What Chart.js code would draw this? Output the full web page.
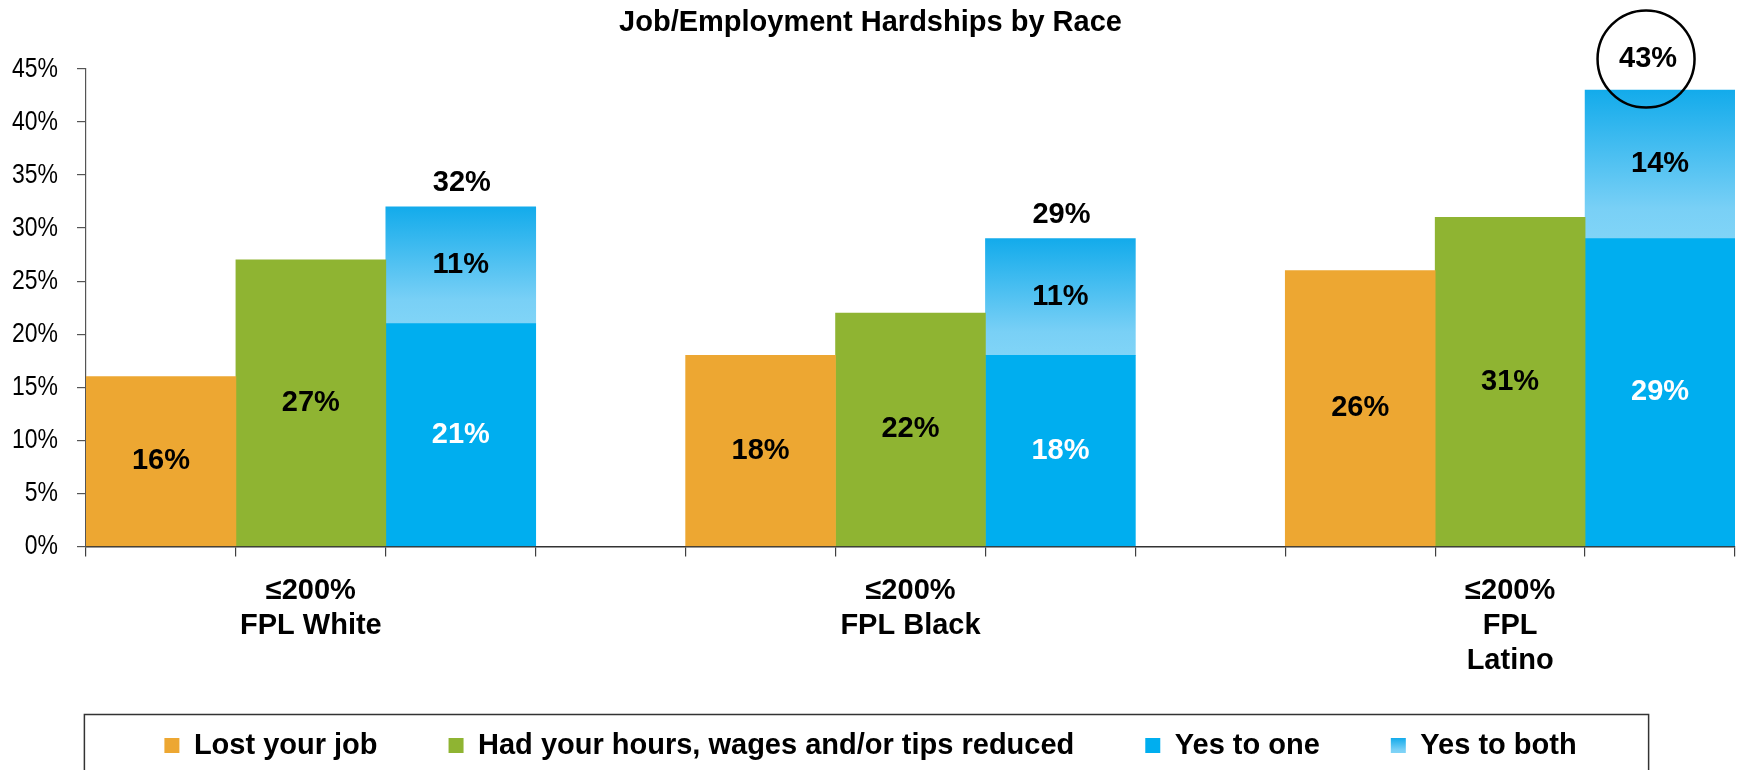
<!DOCTYPE html>
<html>
<head>
<meta charset="utf-8">
<title>Job/Employment Hardships by Race</title>
<script src="https://cdn.jsdelivr.net/npm/chart.js@4/dist/chart.umd.min.js"></script>
<style>
  html, body { margin: 0; padding: 0; background: #fff; }
  #wrap { width: 1741px; height: 770px; }
</style>
</head>
<body>
<div id="wrap"><canvas id="myChart" width="1741" height="770"></canvas></div>
<script>
// hardship shares (%) for people at or below 200% FPL, by race
const categories = [['≤200%', 'FPL White'], ['≤200%', 'FPL Black'], ['≤200%', 'FPL', 'Latino']];
const lostJob = [16, 18, 26];
const hoursCut = [27, 22, 31];
const yesOne = [21, 18, 29];
const yesBoth = [11, 11, 14];
const circled = [false, false, true];

const seriesNames = ['Lost your job', 'Had your hours, wages and/or tips reduced', 'Yes to one', 'Yes to both'];
const yMax = 45;
const yStep = 5;

const ORANGE = '#EDA732';
const GREEN = '#8FB432';
const BLUE = '#00AEEF';
const BOTH_TOP = '#13ABEB';
const BOTH_BOTTOM = '#80D4F7';

const BOLD = 'Liberation Sans, Arial, sans-serif';

// every group takes 3 slots plus one empty slot as a spacer
const SLOTS = 4;
const nSlots = categories.length * SLOTS - 1;
const slotLabels = [];
const lostData = [], hoursData = [], oneData = [], bothData = [];
for (let i = 0; i < nSlots; i++) {
  slotLabels.push('');
  lostData.push(null); hoursData.push(null); oneData.push(null); bothData.push(null);
}
categories.forEach((c, g) => {
  slotLabels[g * SLOTS + 1] = c;
  lostData[g * SLOTS] = lostJob[g];
  hoursData[g * SLOTS + 1] = hoursCut[g];
  oneData[g * SLOTS + 2] = yesOne[g];
  bothData[g * SLOTS + 2] = yesBoth[g];
});

const bothGradient = (chart, top, bottom) => {
  const grad = chart.ctx.createLinearGradient(0, top, 0, bottom);
  grad.addColorStop(0, BOTH_TOP);
  grad.addColorStop(0.8, '#79D0F6');
  grad.addColorStop(1, BOTH_BOTTOM);
  return grad;
};

const bothColor = (ctx) => {
  const chart = ctx.chart;
  if (ctx.type !== 'data' || !chart.chartArea || ctx.raw == null) return BOTH_BOTTOM;
  const g = Math.floor(ctx.dataIndex / SLOTS);
  const y = chart.scales.y;
  return bothGradient(chart, y.getPixelForValue(yesOne[g] + yesBoth[g]), y.getPixelForValue(yesOne[g]));
};

// values inside the bars, totals on top, circle round the highlighted total
const valueLabels = {
  id: 'valueLabels',
  afterDatasetsDraw(chart) {
    const ctx = chart.ctx;
    const textColors = ['#000', '#000', '#fff', '#000'];
    ctx.save();
    ctx.font = 'bold 29px ' + BOLD;
    ctx.textAlign = 'center';
    ctx.textBaseline = 'middle';
    chart.data.datasets.forEach((ds, d) => {
      chart.getDatasetMeta(d).data.forEach((bar, i) => {
        const v = ds.data[i];
        if (v == null) return;
        ctx.fillStyle = textColors[d];
        ctx.fillText(v + '%', bar.x, (bar.y + bar.base) / 2);
      });
    });
    const y = chart.scales.y;
    const x = chart.scales.x;
    categories.forEach((c, g) => {
      const total = yesOne[g] + yesBoth[g];
      const top = y.getPixelForValue(total);
      const cx = x.getPixelForValue(g * SLOTS + 2);
      ctx.fillStyle = '#000';
      if (circled[g]) {
        const lx = cx - 12, ly = top - 31;
        ctx.fillText(total + '%', lx, ly);
        ctx.beginPath();
        ctx.arc(lx - 2, ly, 48.5, 0, Math.PI * 2);
        ctx.lineWidth = 2.5;
        ctx.strokeStyle = '#000';
        ctx.stroke();
      } else {
        ctx.fillText(total + '%', cx + 1, top - 24);
      }
    });
    ctx.restore();
  }
};

// narrow y tick labels (Liberation Sans squeezed, like Arial Narrow)
const narrowTicks = {
  id: 'narrowTicks',
  afterDraw(chart) {
    const y = chart.scales.y;
    const ctx = chart.ctx;
    ctx.save();
    ctx.font = '28px ' + BOLD;
    ctx.fillStyle = '#000';
    ctx.textAlign = 'right';
    ctx.textBaseline = 'middle';
    y.ticks.forEach(t => {
      ctx.save();
      ctx.translate(y.right - 9 - 19, y.getPixelForValue(t.value));
      ctx.scale(0.82, 1);
      ctx.fillText(t.value + '%', 0, 0);
      ctx.restore();
    });
    ctx.restore();
  }
};

// framed legend, gradient swatch for "Yes to both"
const legendFrame = {
  id: 'legendFrame',
  afterLayout(chart) {
    // let the multi-line category labels run below the axis box
    chart.scales.x.bottom = chart.height;
  },
  afterDraw(chart) {
    const hb = chart.legend.legendHitBoxes;
    if (!hb || !hb.length) return;
    const ctx = chart.ctx;
    const last = hb[hb.length - 1];
    const mid = hb[0].top + hb[0].height / 2;
    ctx.save();
    ctx.strokeStyle = '#333';
    ctx.lineWidth = 1.5;
    ctx.strokeRect(hb[0].left - 80, mid - 31, last.left + last.width + 72 - (hb[0].left - 80), 100);
    const bw = 15, bh = 15;
    const sy = mid - bh / 2;
    ctx.fillStyle = '#fff';
    ctx.fillRect(last.left - 1, sy - 1, bw + 2, bh + 2);
    ctx.fillStyle = bothGradient(chart, sy, sy + bh);
    ctx.fillRect(last.left, sy, bw, bh);
    ctx.restore();
  }
};

new Chart(document.getElementById('myChart'), {
  type: 'bar',
  data: {
    labels: slotLabels,
    datasets: [
      { label: seriesNames[0], data: lostData, backgroundColor: ORANGE },
      { label: seriesNames[1], data: hoursData, backgroundColor: GREEN },
      { label: seriesNames[2], data: oneData, backgroundColor: BLUE },
      { label: seriesNames[3], data: bothData, backgroundColor: bothColor }
    ]
  },
  options: {
    responsive: false,
    animation: false,
    events: [],
    borderWidth: 0,
    barPercentage: 1,
    categoryPercentage: 1,
    layout: { padding: { left: 6, right: 6, top: 0, bottom: 0 } },
    scales: {
      x: {
        stacked: true,
        afterFit: (s) => { s.height = 113.5; },
        grid: { offset: true, drawOnChartArea: false, tickLength: 10, color: '#404040', lineWidth: 1.2 },
        border: { color: '#333', width: 1.5 },
        ticks: {
          autoSkip: false, maxRotation: 0, minRotation: 0, padding: 17, color: '#000',
          font: { family: BOLD, size: 29, weight: 'bold', lineHeight: 1.2 }
        }
      },
      y: {
        stacked: true,
        min: 0,
        max: yMax,
        afterFit: (s) => { s.width = 80; },
        grid: { drawOnChartArea: false, tickLength: 9, color: '#555', lineWidth: 1.2 },
        border: { color: '#555', width: 1.2 },
        ticks: { stepSize: yStep, display: false }
      }
    },
    plugins: {
      tooltip: { enabled: false },
      title: {
        display: true,
        text: 'Job/Employment Hardships by Race',
        color: '#000',
        font: { family: BOLD, size: 29, weight: 'bold', lineHeight: 1.2 },
        padding: { top: 6, bottom: 28 }
      },
      legend: {
        position: 'bottom',
        labels: {
          color: '#000',
          boxWidth: 15,
          boxHeight: 15,
          padding: 71,
          font: { family: BOLD, size: 29, weight: 'bold' }
        }
      }
    }
  },
  plugins: [valueLabels, narrowTicks, legendFrame]
});
</script>
</body>
</html>
